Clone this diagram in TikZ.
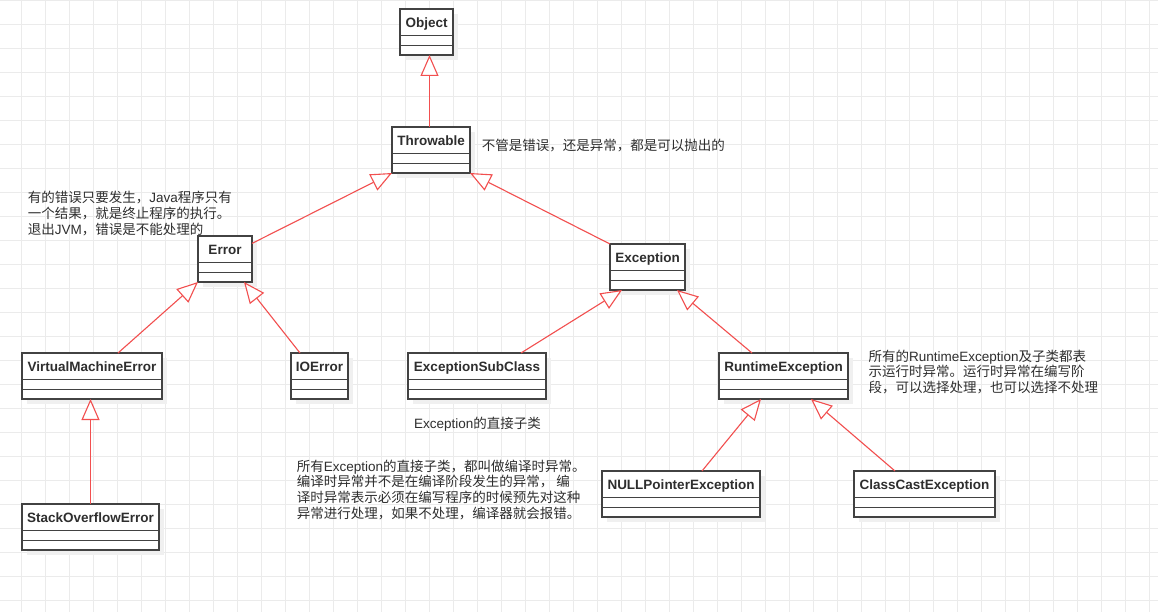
\documentclass[tikz,border=0pt]{standalone}
\usepackage{fontspec}
\setmainfont{Liberation Sans}
\newfontfamily\cjk{Noto Sans CJK SC}
\usetikzlibrary{arrows.meta,calc}
\definecolor{umlred}{HTML}{F24F4F}
\definecolor{gridgray}{HTML}{EBEBEB}
\definecolor{boxline}{HTML}{424242}
\definecolor{inktext}{HTML}{2E2E2E}

% latin words inside the chinese notes
\newcommand{\en}[1]{{\rmfamily #1}}
% class box: name, north west corner, width, class name
\newcommand{\umlclass}[4]{%
  \fill[black!6] (#2) ++(5,-5) rectangle ++(#3,-46);
  \node[classbox,minimum width=#3,anchor=north west] (#1) at (#2) {};
  \node[classname] at ($(#1.north)+(0,-18.5)$) {#4};
  \draw[classsep] ($(#1.north west)+(0,-26.5)$) -- +(#3,0);
  \draw[classsep] ($(#1.north west)+(0,-36.5)$) -- +(#3,0);
}

\begin{document}
\begin{tikzpicture}[x=1pt,y=1pt,
  classbox/.style={draw=boxline,fill=white,line width=1.3pt,minimum height=46,
    inner sep=0pt,outer sep=0pt},
  classname/.style={anchor=base,inner sep=0pt,text=inktext,
    font=\fontsize{13.5}{16}\selectfont\bfseries},
  classsep/.style={draw=boxline,line width=1.1pt},
  extends/.style={draw=umlred,line width=1.1pt,
    -{Triangle[length=21pt,width=18pt,fill=white]}},
  note/.style={inner sep=0pt,align=left,text=inktext,
    font=\fontsize{13.5}{15.8}\selectfont\cjk},
  gridline/.style={draw=gridgray,line width=.8pt}]
  \useasboundingbox (0,0) rectangle (1161,-612);
  \fill[white] (0,0) rectangle (1161,-612);
  \draw[gridline,shift={(21.7,-0.5)},step=24] (-21.7,-611.5) grid (1136.3,0.5);

  % classes
  \umlclass{Object}{400,-9}{53}{Object}
  \umlclass{Throwable}{392,-127}{78}{Throwable}
  \umlclass{Error}{198,-236}{54}{Error}
  \umlclass{Exception}{610,-244}{75}{Exception}
  \umlclass{VMError}{22,-353}{140}{VirtualMachineError}
  \umlclass{IOError}{291,-353}{57}{IOError}
  \umlclass{SubClass}{408,-353}{138}{ExceptionSubClass}
  \umlclass{Runtime}{719,-353}{129}{RuntimeException}
  \umlclass{SOError}{22,-504}{137}{StackOverflowError}
  \umlclass{NullPtr}{602,-471}{158}{NULLPointerException}
  \umlclass{ClassCast}{854,-471}{141}{ClassCastException}

  % inheritance
  \draw[extends] ($(Throwable.north)+(-1.5,0)$) -- ($(Throwable.north |- Object.south)+(-1.5,0)$);
  \draw[extends] (Error.30) -- (Throwable.south west);
  \draw[extends] (Exception.north west) -- (Throwable.south east);
  \draw[extends] ($(VMError.north west)+(96,0)$) -- (Error.south west);
  \draw[extends] ($(IOError.north west)+(9,0)$) -- ($(Error.south east)+(-8,0)$);
  \draw[extends] ($(SubClass.north west)+(113,0)$) -- ($(Exception.south west)+(12,0)$);
  \draw[extends] ($(Runtime.north west)+(33,0)$) -- ($(Exception.south east)+(-8,0)$);
  \draw[extends] (SOError.north) -- (SOError.north |- VMError.south);
  \draw[extends] ($(NullPtr.north west)+(100,0)$) -- ($(Runtime.south west)+(42,0)$);
  \draw[extends] ($(ClassCast.north west)+(41,0)$) -- ($(Runtime.south east)+(-37,0)$);

  % notes
  \node[note,anchor=base west] (throwNote) at (481.7,-150.8)
    {不管是错误，还是异常，都是可以抛出的};
  \node[note,anchor=north west] (errorNote) at (27.7,-191)
    {有的错误只要发生，\en{Java}程序只有\\一个结果，就是终止程序的执行。\\退出\en{JVM}，错误是不能处理的};
  \node[note,anchor=base west] (subNote) at (414,-428.5)
    {\en{Exception}的直接子类};
  \node[note,anchor=north west] (checkedNote) at (296.7,-459.5)
    {所有\en{Exception}的直接子类，都叫做编译时异常。\\编译时异常并不是在编译阶段发生的异常， 编\\译时异常表示必须在编写程序的时候预先对这种\\异常进行处理，如果不处理，编译器就会报错。};
  \node[note,anchor=north west] (runtimeNote) at (868.3,-349.5)
    {所有的\en{RuntimeException}及子类都表\\示运行时异常。运行时异常在编写阶\\段，可以选择处理，也可以选择不处理};
\end{tikzpicture}
\end{document}
